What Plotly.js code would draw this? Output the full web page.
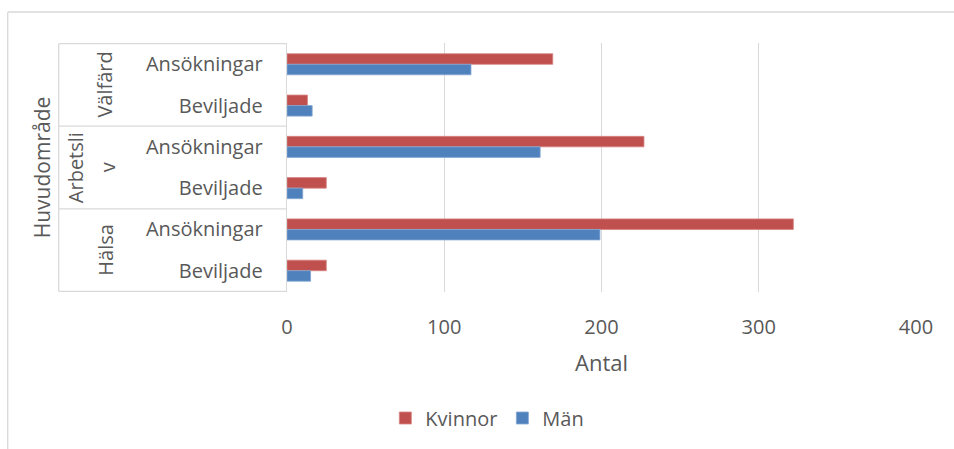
<!DOCTYPE html>
<html>
<head>
<meta charset="utf-8">
<script src="https://cdn.plot.ly/plotly-3.0.1.min.js"></script>
<style>html,body{margin:0;padding:0;background:#fff;}#chart{width:954px;height:449px;}</style>
</head>
<body>
<div id="chart"></div>
<script>
// Data (top to bottom as shown)
const groups = ["Välfärd", "Välfärd", "Arbetsliv", "Arbetsliv", "Hälsa", "Hälsa"];
const subLabels = ["Ansökningar", "Beviljade", "Ansökningar", "Beviljade", "Ansökningar", "Beviljade"];
const kvinnor = [169, 13, 227, 25, 322, 25];
const man = [117, 16, 161, 10, 199, 15];
const seriesNames = ["Kvinnor", "Män"];
const xTicks = [0, 100, 200, 300, 400];
// how the outer group labels are wrapped in the original
const groupLabelLines = {"Välfärd": ["Välfärd"], "Arbetsliv": ["Arbetsli", "v"], "Hälsa": ["Hälsa"]};

const keys = groups.map((g, i) => g + " | " + subLabels[i]);
const txt = "#595959";
const font = "Open Sans, Noto Sans, sans-serif";

// plot area geometry in pixels
const W = 954, H = 449, L = 286.5, R = 916, T = 43, B = 292;
const px2x = p => (p - L) / (R - L);
const px2y = p => (B - p) / (B - T);

const traces = [
  {type: "bar", orientation: "h", name: seriesNames[0], y: keys, x: kvinnor,
   marker: {color: "#C0504D", line: {color: "#D68482", width: 0.8}}, hoverinfo: "x+name"},
  {type: "bar", orientation: "h", name: seriesNames[1], y: keys, x: man,
   marker: {color: "#4F81BD", line: {color: "#84A7D3", width: 0.8}}, hoverinfo: "x+name"}
];

// group boundaries / label positions
const uniq = [];
groups.forEach((g, i) => { if (!uniq.length || uniq[uniq.length - 1].g !== g) uniq.push({g: g, s: i, e: i}); else uniq[uniq.length - 1].e = i; });

const shapes = [];
const line = {color: "#D9D9D9", width: 1.3};
const divX0 = px2x(58);
uniq.forEach((u, k) => {
  if (k === 0) shapes.push({type: "line", xref: "paper", yref: "y", x0: divX0, x1: 0, y0: u.s - 0.5, y1: u.s - 0.5, line: line});
  shapes.push({type: "line", xref: "paper", yref: "y", x0: divX0, x1: 0, y0: u.e + 0.5, y1: u.e + 0.5, line: line});
});
shapes.push({type: "line", xref: "paper", yref: "y", x0: divX0, x1: divX0, y0: -0.5, y1: groups.length - 0.5, line: line});
// outer chart border (top and left visible)
shapes.push({type: "line", xref: "paper", yref: "paper", x0: px2x(7), x1: px2x(W + 5), y0: px2y(12), y1: px2y(12), line: line});
shapes.push({type: "line", xref: "paper", yref: "paper", x0: px2x(7), x1: px2x(7), y0: px2y(12), y1: px2y(H + 5), line: line});

const annotations = [];
const groupLabelX = {1: [104], 2: [75, 107]};
uniq.forEach(u => {
  const lines = groupLabelLines[u.g];
  const xs = groupLabelX[lines.length];
  lines.forEach((t, j) => {
    annotations.push({text: t, xref: "paper", yref: "y", x: px2x(xs[j]), y: (u.s + u.e) / 2,
      textangle: -90, showarrow: false, xanchor: "center", yanchor: "middle",
      font: {family: font, size: 20, color: txt}});
  });
});

const layout = {
  width: W, height: H,
  margin: {l: L, r: W - R, t: T, b: H - B, pad: 0},
  paper_bgcolor: "#ffffff", plot_bgcolor: "#ffffff",
  barmode: "group", bargap: 0.49, bargroupgap: 0,
  font: {family: font, color: txt},
  xaxis: {range: [0, 400], tickvals: xTicks, showgrid: true, gridcolor: "#D9D9D9", gridwidth: 1.3,
    zeroline: false, showline: false, ticks: "", ticklabelstandoff: 21,
    tickfont: {family: font, size: 20, color: txt},
    title: {text: "Antal", font: {family: font, size: 22, color: txt}, standoff: 16}},
  yaxis: {type: "category", autorange: "reversed", tickvals: keys, ticktext: subLabels,
    showgrid: false, zeroline: false, showline: true, linecolor: "#D9D9D9", linewidth: 1.3,
    ticks: "", ticklabelstandoff: 19, tickfont: {family: font, size: 20, color: txt},
    title: {text: "Huvudområde", font: {family: font, size: 21, color: txt}, standoff: 89}},
  legend: {orientation: "h", x: px2x(487), xanchor: "center", y: px2y(418), yanchor: "middle",
    font: {family: font, size: 20, color: txt}, traceorder: "normal"},
  showlegend: true,
  shapes: shapes, annotations: annotations
};

Plotly.newPlot("chart", traces, layout, {displayModeBar: false, staticPlot: true});
</script>
</body>
</html>
